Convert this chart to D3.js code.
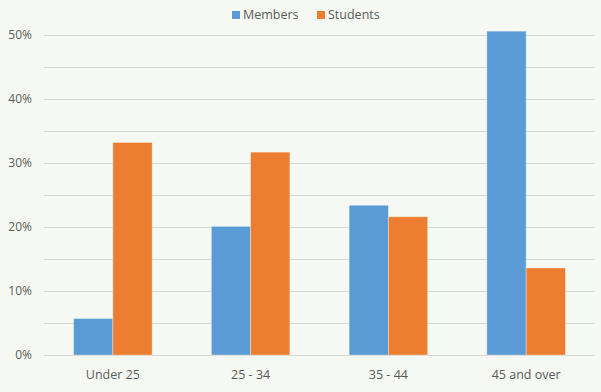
<!DOCTYPE html>
<html>
<head>
<meta charset="utf-8">
<script src="https://cdn.jsdelivr.net/npm/d3@7"></script>
<style>
  body { margin: 0; background: #f6f9f3; }
  svg text { font-family: "Open Sans", "Noto Sans", sans-serif; fill: #595959; }
</style>
</head>
<body>
<div id="chart"></div>
<script>
const categories = ["Under 25", "25 - 34", "35 - 44", "45 and over"];
const seriesNames = ["Members", "Students"];
const members = [5.7, 20.1, 23.4, 50.6];
const students = [33.2, 31.7, 21.6, 13.6];
const yTicks = [0, 10, 20, 30, 40, 50];

const width = 601;
const height = 392;
const colors = ["#5b9bd5", "#ed7d31"];

const svg = d3.select("#chart")
    .append("svg")
    .attr("width", width)
    .attr("height", height);

svg.append("rect")
    .attr("width", width)
    .attr("height", height)
    .attr("fill", "#f6f9f3");

const x = d3.scaleBand()
    .domain(categories)
    .range([44, 595])
    .paddingInner(0.43)
    .paddingOuter(0.215);

const x1 = d3.scaleBand()
    .domain(seriesNames)
    .range([0, x.bandwidth()]);

const y = d3.scaleLinear()
    .domain([0, 50])
    .range([355, 35]);

// gridlines every 5%
svg.append("g")
    .selectAll("line")
    .data(d3.range(0, 51, 5))
    .enter()
    .append("line")
    .attr("x1", 44)
    .attr("x2", 595)
    .attr("y1", d => y(d) + 0.5)
    .attr("y2", d => y(d) + 0.5)
    .attr("stroke", "#d6d8d3")
    .attr("stroke-width", 1.2);

const yAxis = d3.axisLeft(y)
    .tickValues(yTicks)
    .tickSize(0)
    .tickPadding(0)
    .tickFormat(d => `${d}%`);

svg.append("g")
    .attr("transform", "translate(32,0)")
    .call(yAxis)
    .call(g => g.select(".domain").remove())
    .selectAll("text")
    .attr("font-size", 12)
    .style("font-family", "\"Open Sans\", sans-serif");

const rows = categories.map((c, i) => ({ category: c, values: [members[i], students[i]] }));

svg.append("g")
    .selectAll("g")
    .data(rows)
    .enter()
    .append("g")
    .attr("transform", d => `translate(${x(d.category)},0)`)
    .selectAll("rect")
    .data(d => d.values.map((v, j) => ({ name: seriesNames[j], value: v, color: colors[j] })))
    .enter()
    .append("rect")
    .attr("x", d => x1(d.name))
    .attr("width", x1.bandwidth())
    .attr("y", d => y(d.value))
    .attr("height", d => y(0) - y(d.value))
    .attr("fill", d => d.color)
    .attr("stroke", "#f6f9f3")
    .attr("stroke-opacity", 0.5)
    .attr("stroke-width", 0.75);

const xAxis = d3.axisBottom(x)
    .tickSize(0)
    .tickPadding(0);

svg.append("g")
    .attr("transform", "translate(0,370)")
    .call(xAxis)
    .call(g => g.select(".domain").remove())
    .selectAll("text")
    .attr("font-size", 12.5)
    .attr("dy", "0.71em")
    .style("font-family", "\"Open Sans\", sans-serif");

// legend
const legendItems = [
    { name: "Members", color: colors[0], x: 232 },
    { name: "Students", color: colors[1], x: 317 }
];

const legend = svg.append("g");
legend.selectAll("rect")
    .data(legendItems)
    .enter()
    .append("rect")
    .attr("x", d => d.x)
    .attr("y", 11)
    .attr("width", 8)
    .attr("height", 8)
    .attr("fill", d => d.color);

legend.selectAll("text")
    .data(legendItems)
    .enter()
    .append("text")
    .attr("x", d => d.x + 11)
    .attr("y", 15)
    .attr("dy", "0.35em")
    .attr("font-size", 12.5)
    .text(d => d.name);
</script>
</body>
</html>
